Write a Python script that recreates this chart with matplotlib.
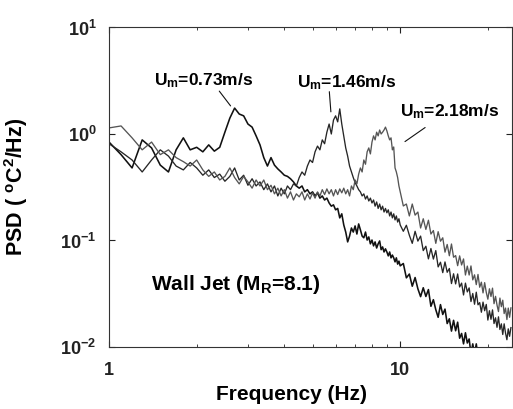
import numpy as np
import matplotlib
matplotlib.use("Agg")
import matplotlib.pyplot as plt
from matplotlib.ticker import FixedLocator, LogLocator, NullLocator, NullFormatter

FAM = ['Liberation Sans Narrow', 'Liberation Sans', 'DejaVu Sans']
plt.rcParams['font.family'] = FAM
plt.rcParams['font.weight'] = 'bold'
plt.rcParams['mathtext.fontset'] = 'custom'
plt.rcParams['mathtext.rm'] = 'Liberation Sans:bold'
plt.rcParams['mathtext.bf'] = 'Liberation Sans:bold'
plt.rcParams['mathtext.it'] = 'Liberation Sans:bold'
plt.rcParams['mathtext.default'] = 'rm'

# frequency grid (Hz)
freq = np.concatenate([np.round(np.arange(1.0, 10.05, 0.1), 2),
                       np.arange(10.25, 24.01, 0.25)])

# PSD (degC^2/Hz) for Um = 0.73 m/s
psd_073 = [
    0.84, 0.64, 0.48, 0.88, 0.74, 0.51, 0.44, 0.71, 0.92, 0.71,
    0.75, 0.68, 0.79, 0.69, 0.75, 1.04, 1.41, 1.75, 1.54, 1.48,
    1.24, 1.16, 0.96, 0.79, 0.60, 0.50, 0.60, 0.51, 0.47, 0.44,
    0.41, 0.40, 0.38, 0.355, 0.325, 0.31, 0.325, 0.286, 0.30, 0.274,
    0.286, 0.262, 0.28, 0.25, 0.262, 0.24, 0.25, 0.225, 0.21, 0.216,
    0.194, 0.20, 0.163, 0.178, 0.14, 0.12, 0.097, 0.11, 0.131, 0.12,
    0.137, 0.115, 0.143, 0.126, 0.11, 0.106, 0.12, 0.101, 0.108, 0.093,
    0.101, 0.089, 0.097, 0.085, 0.093, 0.099, 0.082, 0.087, 0.078, 0.0835,
    0.078, 0.0717, 0.078, 0.0687, 0.073, 0.0687, 0.063, 0.0687, 0.060, 0.064,
    0.0578,
    0.0608, 0.0446, 0.0484, 0.0372, 0.0449, 0.0352, 0.0297, 0.036, 0.0298, 0.0346,
    0.0241, 0.0278, 0.0224, 0.019, 0.025, 0.0202, 0.0227, 0.0166, 0.0184, 0.0141,
    0.0178, 0.0142, 0.0171, 0.0121, 0.0134, 0.0107, 0.0136, 0.0109, 0.0119, 0.0086,
    0.0107, 0.0086, 0.0107, 0.0081, 0.0089, 0.0069, 0.0089, 0.0074, 0.0081, 0.0060,
    0.0072, 0.0057, 0.0074, 0.0057, 0.0059, 0.0048, 0.0061, 0.0051, 0.0058, 0.0041,
    0.0051, 0.0042, 0.0052, 0.0038, 0.0043, 0.0035,
]

# PSD for Um = 1.46 m/s
psd_146 = [
    0.81, 0.68, 0.57, 0.44, 0.57, 0.71, 0.62, 0.50, 0.46, 0.54,
    0.48, 0.41, 0.46, 0.39, 0.42, 0.36, 0.40, 0.48, 0.37, 0.41,
    0.33, 0.38, 0.325, 0.355, 0.30, 0.34, 0.286, 0.325, 0.262, 0.31,
    0.274, 0.325, 0.30, 0.34, 0.325, 0.39, 0.44, 0.41, 0.50, 0.57,
    0.54, 0.68, 0.77, 0.71, 0.88, 0.81, 1.04, 1.24, 1.00, 1.35,
    1.48, 1.30, 1.72, 1.24, 0.96, 0.74, 0.62, 0.50, 0.44, 0.39,
    0.35, 0.325, 0.30, 0.286, 0.262, 0.274, 0.245, 0.262, 0.235, 0.25,
    0.225, 0.24, 0.21, 0.23, 0.20, 0.22, 0.194, 0.21, 0.185, 0.20,
    0.182, 0.194, 0.170, 0.185, 0.163, 0.178, 0.156, 0.170, 0.149, 0.16,
    0.14,
    0.122, 0.139, 0.112, 0.094, 0.122, 0.0987, 0.110, 0.0804, 0.0883, 0.0672,
    0.0841, 0.0669, 0.0804, 0.0565, 0.0625, 0.0499, 0.0629, 0.0503, 0.0546, 0.0394,
    0.0487, 0.0391, 0.0485, 0.0366, 0.0398, 0.0308, 0.0398, 0.0329, 0.0359, 0.0267,
    0.0318, 0.0252, 0.0327, 0.0249, 0.0261, 0.0212, 0.0264, 0.0219, 0.0251, 0.0179,
    0.0219, 0.0182, 0.0223, 0.0166, 0.0188, 0.0153, 0.0192, 0.0146, 0.0165, 0.0131,
    0.0165, 0.0135, 0.0117, 0.0148, 0.0126, 0.0152,
]

# PSD for Um = 2.18 m/s
psd_218 = [
    1.14, 1.19, 0.92, 0.71, 0.84, 0.64, 0.71, 0.60, 0.55, 0.50,
    0.57, 0.46, 0.40, 0.44, 0.37, 0.40, 0.48, 0.39, 0.34, 0.40,
    0.355, 0.31, 0.37, 0.325, 0.37, 0.30, 0.33, 0.274, 0.31, 0.262,
    0.30, 0.25, 0.286, 0.24, 0.274, 0.257, 0.286, 0.24, 0.274, 0.245,
    0.28, 0.25, 0.286, 0.262, 0.30, 0.27, 0.305, 0.274, 0.30, 0.262,
    0.30, 0.27, 0.305, 0.28, 0.31, 0.274, 0.30, 0.262, 0.325, 0.30,
    0.37, 0.34, 0.42, 0.48, 0.44, 0.57, 0.52, 0.68, 0.74, 0.65,
    0.84, 0.96, 0.88, 1.04, 0.96, 1.09, 1.00, 1.04, 1.09, 1.16,
    1.07, 0.96, 0.88, 0.92, 0.71, 0.755, 0.48, 0.44, 0.39, 0.325,
    0.286,
    0.211, 0.220, 0.170, 0.220, 0.173, 0.185, 0.131, 0.160, 0.127, 0.155,
    0.115, 0.124, 0.094, 0.121, 0.0985, 0.106, 0.0777, 0.0918, 0.0719, 0.0927,
    0.0696, 0.0722, 0.0580, 0.0717, 0.0589, 0.0671, 0.0474, 0.0575, 0.0474, 0.0577,
    0.0427, 0.0476, 0.0385, 0.048, 0.0364, 0.0406, 0.0322, 0.0402, 0.0326, 0.0281,
    0.0352, 0.0298, 0.0357, 0.0255, 0.0299, 0.0248, 0.0215, 0.0288, 0.0239, 0.0275,
    0.0206, 0.0232, 0.0181, 0.0232, 0.0190, 0.0233,
]

series = [
    (psd_073, '#111111', 1.15),
    (psd_146, '#262626', 0.95),
    (psd_218, '#555555', 0.95),
]

fig = plt.figure(figsize=(5.13, 4.09), dpi=100)
ax = fig.add_axes([0.2125, 0.1516, 0.7865, 0.7812])

for vals, col, lw in series:
    ax.plot(freq, vals, color=col, lw=lw)

ax.set_xscale('log')
ax.set_yscale('log')
ax.set_xlim(1, 24.3)
ax.set_ylim(1e-2, 1e1)

ax.xaxis.set_major_locator(FixedLocator([1, 10]))
ax.set_xticklabels(['1', '10'])
ax.xaxis.set_minor_locator(LogLocator(base=10, subs=np.arange(2, 10)))
ax.xaxis.set_minor_formatter(NullFormatter())
ax.yaxis.set_major_locator(FixedLocator([1e-2, 1e-1, 1e0, 1e1]))
ax.set_yticklabels([r'$10^{-2}$', r'$10^{-1}$', r'$10^{0}$', r'$10^{1}$'])
ax.yaxis.set_minor_locator(NullLocator())

ax.tick_params(which='both', direction='in', top=True, right=True, colors='#222222')
ax.tick_params(which='major', length=4, width=0.8)
ax.tick_params(which='minor', length=2.5, width=0.6)
ax.tick_params(axis='y', which='major', pad=9, labelsize=13)
ax.tick_params(axis='x', which='major', pad=11, labelsize=13)
for lab in ax.get_xticklabels() + ax.get_yticklabels():
    lab.set_fontweight('bold')

for s in ax.spines.values():
    s.set_color('#333333')
    s.set_linewidth(0.8)

ax.set_xlabel('Frequency (Hz)', fontsize=15, fontweight='bold')
ax.xaxis.set_label_coords(0.453, -0.118)
ax.set_ylabel(r'PSD ( $^{o}$C$^{2}$/Hz)', fontsize=15.5, fontweight='bold')
ax.yaxis.set_label_coords(-0.195, 0.5)

tfs = 12.5
ax.text(2.12, 3.2, r'U$_{m}$=0.73m/s', fontsize=tfs, fontweight='bold', ha='center', va='center')
ax.text(6.52, 3.05, r'U$_{m}$=1.46m/s', fontsize=tfs, fontweight='bold', ha='center', va='center')
ax.text(14.8, 1.62, r'U$_{m}$=2.18m/s', fontsize=tfs, fontweight='bold', ha='center', va='center')
ax.annotate('', xy=(2.65, 1.75), xytext=(2.36, 2.65),
            arrowprops=dict(arrowstyle='-', color='#111111', lw=0.8))
ax.annotate('', xy=(5.79, 1.52), xytext=(5.70, 2.65),
            arrowprops=dict(arrowstyle='-', color='#111111', lw=0.8))
ax.annotate('', xy=(10.2, 0.82), xytext=(12.4, 1.19),
            arrowprops=dict(arrowstyle='-', color='#111111', lw=0.8))

ax.text(2.73, 0.0383, r'Wall Jet (M$_{R}$=8.1)', fontsize=15, fontweight='bold',
        ha='center', va='center')

fig.savefig('out.png', dpi=100)
